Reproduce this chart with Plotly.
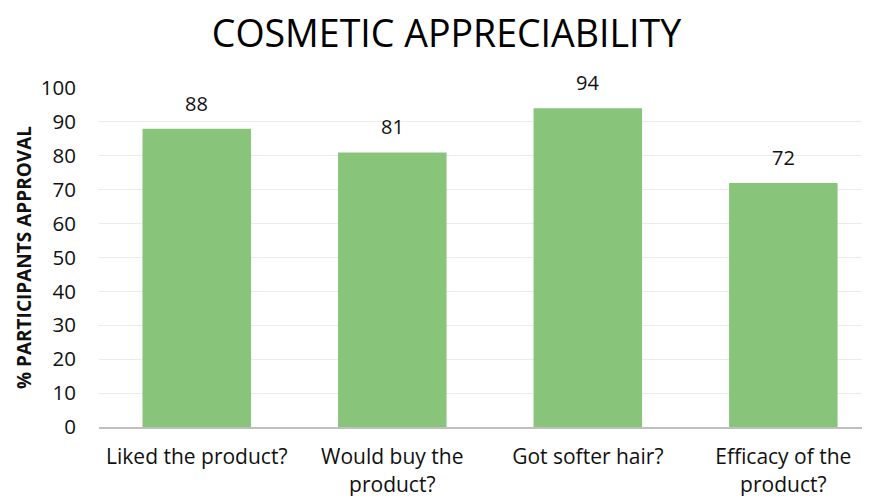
import plotly.graph_objects as go

categories = ["Liked the product?", "Would buy the<br>product?", "Got softer hair?", "Efficacy of the<br>product?"]
values = [88, 81, 94, 72]
y_ticks = [0, 10, 20, 30, 40, 50, 60, 70, 80, 90, 100]

x_pos = list(range(len(categories)))

fig = go.Figure()
fig.add_trace(go.Bar(
    x=x_pos, y=values,
    width=0.555,
    marker=dict(color="#88C57B", line=dict(width=0)),
))

for xi, v in zip(x_pos, values):
    fig.add_annotation(x=xi, y=v, text=str(v), showarrow=False,
                       yanchor="bottom", yshift=10,
                       font=dict(family="Open Sans", size=20, color="#111111"))

fig.update_layout(
    width=870, height=496,
    margin=dict(l=91, r=2, t=80, b=77),
    plot_bgcolor="white", paper_bgcolor="white",
    showlegend=False,
    title=dict(text="COSMETIC APPRECIABILITY", x=0.504, xanchor="center", y=0.948, yanchor="middle",
               font=dict(family="Open Sans", size=37.5, color="#000000")),
    xaxis=dict(
        tickmode="array", tickvals=x_pos, ticktext=categories,
        range=[-0.5, 3.474], showgrid=False, zeroline=False,
        showline=True, linecolor="#BFBFBF", linewidth=2,
        tickfont=dict(family="Open Sans", size=21, color="#111111"),
        ticks="outside", ticklen=10, tickcolor="white",
    ),
    yaxis=dict(
        range=[0, 100], tickvals=y_ticks,
        showgrid=True, gridcolor="#EBEBEB", gridwidth=1,
        zeroline=False, showline=False,
        tickfont=dict(family="Open Sans", size=20.5, color="#111111"),
        ticks="outside", ticklen=18, tickcolor="white",
        title=dict(text="<b>% PARTICIPANTS APPROVAL</b>", standoff=4,
                   font=dict(family="Open Sans", size=19, color="#111111")),
    ),
)

fig.write_html("out.html")
